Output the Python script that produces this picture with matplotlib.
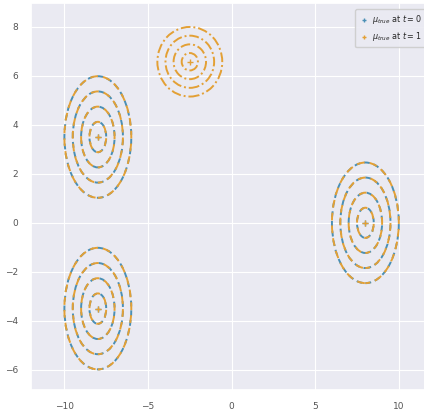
import matplotlib
matplotlib.use("Agg")
import matplotlib.pyplot as plt
import seaborn as sns
from matplotlib.patches import Ellipse

sns.set_theme(style="darkgrid")

BLUE = "#4a8fb5"
ORANGE = "#e3a035"

# component means / std devs at t=0 and t=1
mu_t0 = [(-8.0, 3.5), (-8.0, -3.5), (8.0, 0.0)]
sd_t0 = [(1.0, 1.24), (1.0, 1.24), (1.0, 1.23)]
mu_t1 = [(-8.0, 3.5), (-8.0, -3.5), (8.0, 0.0), (-2.5, 6.57)]
sd_t1 = [(1.0, 1.24), (1.0, 1.24), (1.0, 1.23), (0.97, 0.71)]
style_t1 = ["dashed", "dashed", "dashed", "dashdot"]
radii = [0.5, 1.0, 1.5, 2.0]

fig = plt.figure(figsize=(4.24, 4.18), dpi=100)
ax = fig.add_axes([0.073, 0.067, 0.9465, 0.926])

for (mx, my), (sx, sy) in zip(mu_t0, sd_t0):
    for r in radii:
        ax.add_patch(Ellipse((mx, my), 2 * r * sx, 2 * r * sy, fill=False,
                             edgecolor=BLUE, linestyle=(0, (3.0, 2.0)), linewidth=1.4))

for (mx, my), (sx, sy), ls in zip(mu_t1, sd_t1, style_t1):
    for r in radii:
        if ls == "dashed":
            dash = (1.5, (4.0, 2.6))
        else:
            dash = (0, (5.0, 1.5, 1.0, 1.5))
        ax.add_patch(Ellipse((mx, my), 2 * r * sx, 2 * r * sy, fill=False,
                             edgecolor=ORANGE, linestyle=dash, linewidth=1.4))

ax.scatter([m[0] for m in mu_t0], [m[1] for m in mu_t0], marker="+", s=14,
           color=BLUE, linewidths=1.0, label=r"$\mu_{true}$ at $t=0$", zorder=3)
ax.scatter([m[0] for m in mu_t1], [m[1] for m in mu_t1], marker="+", s=14,
           color=ORANGE, linewidths=1.0, label=r"$\mu_{true}$ at $t=1$", zorder=4)

ax.set_xlim(-12, 12)
ax.set_ylim(-6.82, 8.97)
ax.set_xticks([-10, -5, 0, 5, 10])
ax.set_yticks([-6, -4, -2, 0, 2, 4, 6, 8])
ax.grid(True, linewidth=0.8)
ax.tick_params(labelsize=6.5, colors="#555555", pad=3)
ax.legend(loc="upper left", bbox_to_anchor=(351 / 424, 1 - 5 / 418),
          bbox_transform=fig.transFigure, fontsize=5.8, markerscale=0.9,
          framealpha=0.9, borderpad=0.5, labelspacing=0.5,
          handlelength=1.2, handletextpad=0.4)

fig.savefig("out.png", dpi=100)
plt.close(fig)
